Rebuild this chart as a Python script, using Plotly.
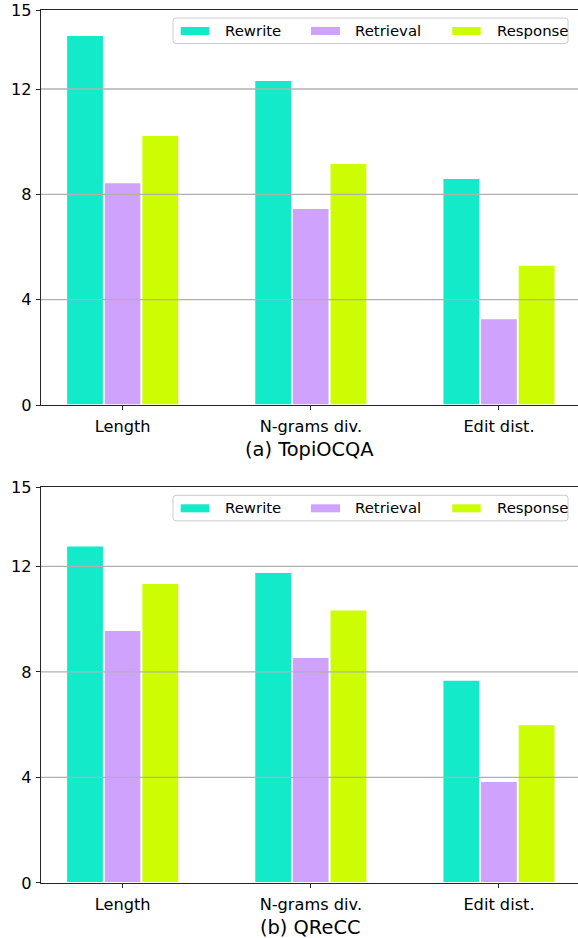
import plotly.graph_objects as go

# ---- data ----
categories = ["Length", "N-grams div.", "Edit dist."]
series_names = ["Rewrite", "Retrieval", "Response"]

topiocqa_rewrite = [14.05, 12.34, 8.62]
topiocqa_retrieval = [8.46, 7.48, 3.29]
topiocqa_response = [10.25, 9.19, 5.32]

qrecc_rewrite = [12.79, 11.78, 7.70]
qrecc_retrieval = [9.59, 8.56, 3.86]
qrecc_response = [11.37, 10.36, 6.01]

y_ticks = [0, 4, 8, 12, 15]
grid_values = [4, 8, 12]
panel_titles = ["(a) TopiOCQA", "(b) QReCC"]

colors = ["#13EAC9", "#CEA2FD", "#CDFD02"]

# ---- geometry (pixels) ----
W, H = 578, 938
ML, MR, MT, MB = 41, 0, 10, 55
PW = W - ML - MR          # plot width
AX_H = 395                # height of each panel

FONT = "DejaVu Sans"
TICK_SIZE = 16.2
LEGEND_SIZE = 14.9
TITLE_SIZE = 19.4
SPINE = "#262626"

panels = [
    ("x", "y", [topiocqa_rewrite, topiocqa_retrieval, topiocqa_response], [0.5475, 1.0]),
    ("x2", "y2", [qrecc_rewrite, qrecc_retrieval, qrecc_response], [0.0, 0.4533]),
]

fig = go.Figure()

for xa, ya, series, _ in panels:
    for name, vals, col in zip(series_names, series, colors):
        fig.add_trace(go.Bar(
            x=categories, y=vals, name=name, xaxis=xa, yaxis=ya,
            marker=dict(color=col, line=dict(color="white", width=1.8)),
            showlegend=False,
        ))


def dx(px):
    """x pixel -> axis-domain fraction"""
    return (px - ML) / PW


def dy(off):
    """pixels below the panel top -> axis-domain fraction"""
    return 1 - off / AX_H


shapes = []
annotations = []

for i, (xa, ya, series, dom) in enumerate(panels):
    xd = f"{xa} domain"
    yd = f"{ya} domain"
    # horizontal grid drawn over the bars
    for v in grid_values:
        shapes.append(dict(type="line", xref=xd, yref=ya, x0=0, x1=1, y0=v, y1=v,
                           line=dict(color="#b0b0b0", width=1.3), layer="above"))
    # legend frame with rounded corners
    x0, x1 = dx(173), dx(568)
    y0, y1 = dy(33.5), dy(8)
    rx, ry = 3 / PW, 3 / AX_H
    path = (f"M {x0+rx},{y1} L {x1-rx},{y1} Q {x1},{y1} {x1},{y1-ry} "
            f"L {x1},{y0+ry} Q {x1},{y0} {x1-rx},{y0} "
            f"L {x0+rx},{y0} Q {x0},{y0} {x0},{y0+ry} "
            f"L {x0},{y1-ry} Q {x0},{y1} {x0+rx},{y1} Z")
    shapes.append(dict(type="path", xref=xd, yref=yd, path=path,
                       fillcolor="rgba(255,255,255,0.8)",
                       line=dict(color="#cccccc", width=1), layer="above"))
    patch_x = [(180.7, 209.3), (311, 340), (452.3, 480.7)]
    text_x = [223.3, 353.3, 495]
    for name, col, (p0, p1), tx in zip(series_names, colors, patch_x, text_x):
        shapes.append(dict(type="rect", xref=xd, yref=yd,
                           x0=dx(p0), x1=dx(p1), y0=dy(25), y1=dy(17),
                           fillcolor=col, line=dict(width=0), layer="above"))
        annotations.append(dict(text=name, xref=xd, yref=yd, x=dx(tx), y=dy(20.5),
                                xanchor="left", yanchor="middle", showarrow=False,
                                font=dict(family=FONT, size=LEGEND_SIZE, color="black")))
    # panel caption centred under the panel
    annotations.append(dict(text=panel_titles[i], xref=xd, yref=yd, x=0.5,
                            y=-44 / AX_H, xanchor="center", yanchor="middle",
                            showarrow=False,
                            font=dict(family=FONT, size=TITLE_SIZE, color="black")))

xaxis_common = dict(
    range=[-0.434, 2.42], showgrid=False, showline=True, linecolor=SPINE,
    linewidth=1.2, mirror=True, ticks="outside", ticklen=4, tickcolor=SPINE,
    tickwidth=1.2, tickfont=dict(family=FONT, size=TICK_SIZE, color="black"),
    zeroline=False, fixedrange=True, ticklabelstandoff=2,
)
yaxis_common = dict(
    range=[0, 15], tickvals=y_ticks, showgrid=False, showline=True,
    linecolor=SPINE, linewidth=1.2, ticks="outside", ticklen=4,
    tickcolor=SPINE, tickwidth=1.2,
    tickfont=dict(family=FONT, size=TICK_SIZE, color="black"),
    zeroline=False, fixedrange=True, ticklabelstandoff=1,
)

fig.update_layout(
    width=W, height=H,
    margin=dict(l=ML, r=MR, t=MT, b=MB, pad=0),
    paper_bgcolor="white", plot_bgcolor="white",
    barmode="group", bargap=0.4, bargroupgap=0,
    xaxis=dict(**xaxis_common, domain=[0, 1], anchor="y"),
    yaxis=dict(**yaxis_common, domain=panels[0][3], anchor="x"),
    xaxis2=dict(**xaxis_common, domain=[0, 1], anchor="y2"),
    yaxis2=dict(**yaxis_common, domain=panels[1][3], anchor="x2"),
    shapes=shapes, annotations=annotations,
    showlegend=False,
)

fig.write_html("out.html")
